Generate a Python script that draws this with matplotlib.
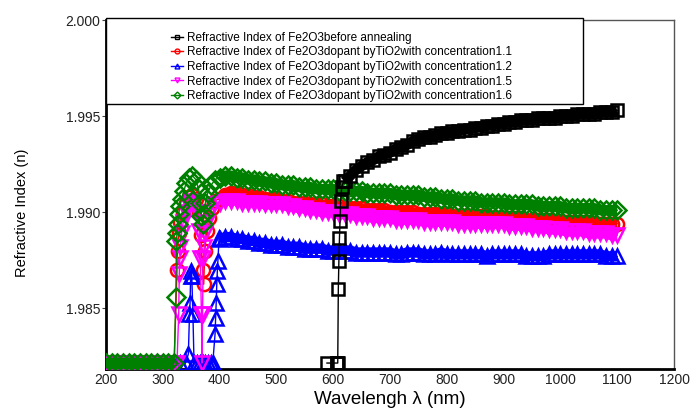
import matplotlib
matplotlib.use("Agg")
import matplotlib.pyplot as plt
from matplotlib.patches import Rectangle
from matplotlib.lines import Line2D

plt.rcParams["font.family"] = ["Liberation Sans", "DejaVu Sans"]

# shared wavelength grid for the smooth part of every curve (nm)
TAIL_NM = list(range(400, 1101, 10))

# Fe2O3 before annealing (black squares)
black_nm = [589, 606, 607, 608, 609, 610, 611, 612, 613, 615, 618] + list(range(620, 1101, 10))
black_n = [1.98215, 1.98215, 1.98215, 1.98215, 1.98600, 1.98745, 1.98864, 1.98952, 1.99056,
           1.99130, 1.99160,
           1.9916, 1.9919, 1.9922, 1.9924, 1.9926, 1.9927, 1.9929, 1.9930, 1.9931, 1.9933,
           1.9934, 1.9935, 1.9937, 1.9938, 1.9939, 1.9939, 1.9940, 1.9941, 1.9941, 1.9942,
           1.9942, 1.9943, 1.9943, 1.9944, 1.9944, 1.9945, 1.9945, 1.9946, 1.9946, 1.9947,
           1.9947, 1.9948, 1.9948, 1.9948, 1.9949, 1.9949, 1.9949, 1.9949, 1.9950, 1.9950,
           1.9950, 1.9951, 1.9951, 1.9951, 1.9951, 1.9952, 1.9952, 1.9952, 1.9953]

# TiO2 dopant, concentration 1.1 (red circles)
red_nm = list(range(200, 321, 10)) + [325, 326, 328, 331, 335, 340, 346, 352, 358, 363,
                                       367, 370, 372, 374, 377, 381, 386, 392] + TAIL_NM
red_n = [1.98215] * 13 + [1.9870, 1.9880, 1.9889, 1.9895, 1.9900, 1.9905, 1.9908, 1.9909,
                          1.9907, 1.9900, 1.9888, 1.9870, 1.98625, 1.9880, 1.9890, 1.9897,
                          1.9902, 1.9906] + [
    1.9907, 1.9909, 1.9910, 1.9910, 1.9909, 1.9909, 1.9908, 1.9908, 1.9907, 1.9907,
    1.9907, 1.9906, 1.9906, 1.9905, 1.9905, 1.9905, 1.9904, 1.9904, 1.9904, 1.9903,
    1.9903, 1.9903, 1.9902, 1.9902, 1.9902, 1.9902, 1.9901, 1.9901, 1.9901, 1.9901,
    1.9900, 1.9900, 1.9900, 1.9900, 1.9900, 1.9899, 1.9899, 1.9899, 1.9899, 1.9899,
    1.9899, 1.9898, 1.9898, 1.9898, 1.9898, 1.9898, 1.9898, 1.9898, 1.9897, 1.9897,
    1.9897, 1.9897, 1.9897, 1.9897, 1.9896, 1.9896, 1.9896, 1.9896, 1.9896, 1.9895,
    1.9895, 1.9895, 1.9895, 1.9895, 1.9895, 1.9895, 1.9894, 1.9894, 1.9894, 1.9894,
    1.9894]

# TiO2 dopant, concentration 1.2 (blue up-triangles)
blue_nm = list(range(200, 341, 10)) + [345, 347, 348, 349, 350, 351, 353, 355, 360, 365,
                                       370, 375, 380, 385, 388, 392, 393, 394, 395, 396,
                                       397, 399] + TAIL_NM
blue_n = [1.98215] * 15 + [1.98262, 1.98470, 1.98527, 1.98667, 1.98693, 1.98670, 1.98470,
                           1.98215, 1.98215, 1.98215, 1.98215, 1.98215, 1.98215, 1.98215,
                           1.98215, 1.98366, 1.98449, 1.98527, 1.98625, 1.98693, 1.98745,
                           1.98864] + [
    1.9886, 1.9887, 1.9887, 1.9886, 1.9886, 1.9885, 1.9885, 1.9884, 1.9884, 1.9883,
    1.9883, 1.9883, 1.9882, 1.9882, 1.9882, 1.9881, 1.9881, 1.9881, 1.9881, 1.9880,
    1.9880, 1.9880, 1.9880, 1.9880, 1.9879, 1.9879, 1.9879, 1.9879, 1.9879, 1.9879,
    1.9879, 1.9878, 1.9878, 1.9879, 1.9879, 1.9879, 1.9878, 1.9878, 1.9878, 1.9879,
    1.9878, 1.9878, 1.9878, 1.9878, 1.9878, 1.9878, 1.9878, 1.9877, 1.9878, 1.9878,
    1.9878, 1.9878, 1.9878, 1.9878, 1.9877, 1.9877, 1.9877, 1.9877, 1.9878, 1.9878,
    1.9878, 1.9878, 1.9878, 1.9878, 1.9878, 1.9878, 1.9878, 1.9878, 1.9877, 1.9877,
    1.9877]

# TiO2 dopant, concentration 1.5 (magenta down-triangles)
mag_nm = list(range(200, 321, 10)) + [325, 328, 329, 330, 331, 333, 336, 340, 345, 350,
                                       356, 361, 364, 366, 368, 369, 370, 371, 373, 375,
                                       378, 383, 390] + TAIL_NM
mag_n = [1.98215] * 13 + [1.98215, 1.9847, 1.9868, 1.9876, 1.9882, 1.9889, 1.9895, 1.9900,
                          1.9904, 1.9906, 1.9905, 1.9900, 1.9890, 1.9876, 1.9847, 1.98215,
                          1.9847, 1.9876, 1.9882, 1.9889, 1.9895, 1.9900, 1.9904] + [
    1.9905, 1.9906, 1.9906, 1.9906, 1.9905, 1.9905, 1.9905, 1.9905, 1.9904, 1.9904,
    1.9904, 1.9904, 1.9903, 1.9903, 1.9902, 1.9902, 1.9901, 1.9901, 1.9900, 1.9900,
    1.9900, 1.9899, 1.9899, 1.9899, 1.9898, 1.9898, 1.9898, 1.9897, 1.9897, 1.9897,
    1.9897, 1.9896, 1.9896, 1.9896, 1.9896, 1.9896, 1.9895, 1.9895, 1.9895, 1.9895,
    1.9895, 1.9895, 1.9894, 1.9894, 1.9894, 1.9894, 1.9894, 1.9894, 1.9894, 1.9894,
    1.9894, 1.9893, 1.9893, 1.9893, 1.9893, 1.9892, 1.9892, 1.9892, 1.9891, 1.9891,
    1.9891, 1.9890, 1.9890, 1.9890, 1.9890, 1.9889, 1.9889, 1.9889, 1.9889, 1.9888,
    1.9888]

# TiO2 dopant, concentration 1.6 (green diamonds)
green_nm = list(range(200, 321, 10)) + [323, 324, 325, 326, 328, 330, 333, 337, 341, 346,
                                         352, 358, 363, 366, 368, 370, 372, 375, 379, 385,
                                         392] + TAIL_NM
green_n = [1.98215] * 13 + [1.9856, 1.9885, 1.9889, 1.9894, 1.9899, 1.9903, 1.9907, 1.9911,
                            1.9915, 1.9918, 1.9919, 1.9917, 1.9912, 1.9905, 1.9898, 1.9894,
                            1.9899, 1.9905, 1.9910, 1.9914, 1.9917] + [
    1.9918, 1.9919, 1.9919, 1.9918, 1.9918, 1.9917, 1.9917, 1.9916, 1.9916, 1.9915,
    1.9915, 1.9914, 1.9914, 1.9914, 1.9913, 1.9913, 1.9913, 1.9912, 1.9912, 1.9912,
    1.9912, 1.9911, 1.9911, 1.9911, 1.9911, 1.9911, 1.9910, 1.9910, 1.9910, 1.9910,
    1.9910, 1.9909, 1.9909, 1.9909, 1.9909, 1.9909, 1.9908, 1.9908, 1.9908, 1.9907,
    1.9907, 1.9907, 1.9906, 1.9906, 1.9906, 1.9906, 1.9905, 1.9905, 1.9905, 1.9905,
    1.9905, 1.9904, 1.9904, 1.9904, 1.9904, 1.9904, 1.9903, 1.9903, 1.9903, 1.9903,
    1.9903, 1.9902, 1.9902, 1.9902, 1.9902, 1.9902, 1.9902, 1.9901, 1.9901, 1.9901,
    1.9901]

LABELS = [
    "Refractive Index of Fe2O3before annealing",
    "Refractive Index of Fe2O3dopant byTiO2with concentration1.1",
    "Refractive Index of Fe2O3dopant byTiO2with concentration1.2",
    "Refractive Index of Fe2O3dopant byTiO2with concentration1.5",
    "Refractive Index of Fe2O3dopant byTiO2with concentration1.6",
]

fig = plt.figure(figsize=(6.95, 4.15), dpi=100)
ax = fig.add_axes([106 / 695, 1 - 369 / 415, 568 / 695, 349 / 415])

# (x, y, colour, marker, size, zorder, start of the dense run); black on top
series = [
    (red_nm, red_n, "#ff0000", "o", 9.5, 3, 400),
    (blue_nm, blue_n, "#0000ff", "^", 10.5, 3.1, 400),
    (mag_nm, mag_n, "#ff00ff", "v", 10.5, 3.2, 400),
    (green_nm, green_n, "#008000", "D", 9, 3.3, 400),
    (black_nm, black_n, "#000000", "s", 9, 3.4, 620),
]
for x, y, c, m, s, z, start in series:
    # the densely sampled runs merge into a solid band of overlapping markers
    dense = [(xi, yi) for xi, yi in zip(x, y) if xi >= start or xi <= 320]
    flat = [p for p in dense if p[0] <= 320]
    tail = [p for p in dense if p[0] >= start]
    for run in (flat, tail):
        if run:
            rx, ry = zip(*run)
            ax.plot(rx, ry, color=c, lw=7.5, solid_capstyle="butt", zorder=z)
    ax.plot(x, y, color=c, lw=1, marker=m, ms=s, mfc="none", mec=c, mew=1.8, zorder=z)

ax.set_xlim(200, 1200)
ax.set_ylim(1.98184, 2.000)
ax.set_xticks(range(200, 1201, 100))
ax.set_yticks([1.985, 1.990, 1.995, 2.000])
ax.set_yticklabels(["1.985", "1.990", "1.995", "2.000"])
ax.tick_params(axis="both", labelsize=10, labelcolor="#222222", color="#444444")
ax.tick_params(axis="y", length=3, pad=1)
ax.tick_params(axis="x", length=0, pad=3)

for side in ("left", "bottom"):
    ax.spines[side].set_linewidth(2)
    ax.spines[side].set_color("black")
for side in ("top", "right"):
    ax.spines[side].set_linewidth(1)
    ax.spines[side].set_color("#555555")

ax.set_xlabel("Wavelengh λ (nm)", fontsize=13.5, labelpad=3)
ax.set_ylabel("Refractive Index (n)", fontsize=10.5)
ax.yaxis.set_label_coords(-0.136, 0.447)

# white legend box in the upper left corner
box = Rectangle((0, 0.759), 0.84, 0.247, transform=ax.transAxes, facecolor="white",
                edgecolor="black", lw=1, zorder=5, clip_on=False)
ax.add_patch(box)

handles = [
    Line2D([], [], color=c, lw=1, marker=m, ms=3.5, mfc="none", mec=c, mew=1)
    for c, m in [("#000000", "s"), ("#ff0000", "o"), ("#0000ff", "^"),
                 ("#ff00ff", "v"), ("#008000", "D")]
]
leg = ax.legend(handles, LABELS, loc="upper left", bbox_to_anchor=(0.1, 0.99),
                frameon=False, fontsize=8.5, handlelength=1.0, handletextpad=0.35,
                labelspacing=0.22, borderpad=0.2)
leg.set_zorder(6)

fig.savefig("out.png", dpi=100)
